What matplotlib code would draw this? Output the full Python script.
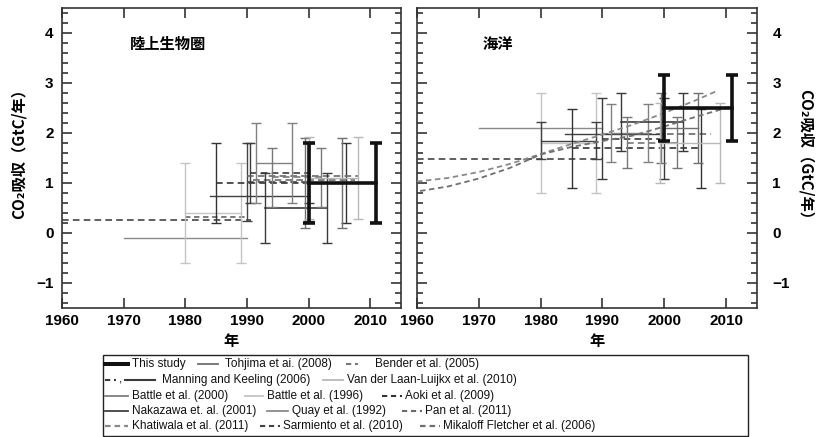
import numpy as np
import matplotlib.pyplot as plt
from matplotlib.ticker import MultipleLocator
from matplotlib.patches import Rectangle

plt.rcParams['font.family'] = ['Liberation Sans Narrow', 'Liberation Sans', 'DejaVu Sans']
JP = ['Noto Sans CJK JP', 'DejaVu Sans']
nan = np.nan

# land sink estimates (GtC/yr): series, period start, period end, value, error (nan = no bars)
land_series = ['sarmiento', 'mikaloff', 'quay', 'battle96', 'nakazawa', 'aoki', 'sarmiento',
               'manning_d', 'pan', 'pan', 'battle00', 'manning_s', 'bender', 'tohjima',
               'vdll', 'this']
land_start = [1960, 1980, 1970, 1980, 1984, 1985, 1990, 1990.5, 1990, 1991, 1991.4, 1993,
              1994, 1999.5, 2000, 2000]
land_end = [1990.7, 1990, 1990, 1989, 2000, 2006, 2000, 2000, 2008, 2007.5, 1997.3, 2003,
            2002, 2005.5, 2008, 2011]
land_value = [0.26, 0.31, -0.10, 0.40, 0.74, 1.00, 1.02, 1.20, 1.13, 1.06, 1.40, 0.49,
              1.11, 1.00, 1.10, 1.00]
land_err = [nan, nan, nan, 1.00, nan, 0.80, 0.78, 0.60, nan, nan, 0.80, 0.70,
            0.59, 0.90, 0.82, 0.80]

# ocean sink estimates (GtC/yr)
ocean_series = ['sarmiento', 'quay', 'battle96', 'nakazawa', 'pan', 'nakazawa', 'aoki',
                'manning_d', 'battle00', 'manning_s', 'bender', 'tohjima', 'vdll', 'this']
ocean_start = [1960, 1970, 1980, 1980, 1990, 1984, 1985, 1990, 1991.4, 1993, 1994, 1999.5,
               1999.3, 2000]
ocean_end = [1990, 1990, 1989, 1989, 2007.5, 2000, 2006, 2000, 1997.3, 2003, 2002, 2005.5,
             2009, 2011]
ocean_value = [1.47, 2.10, 1.80, 1.84, 1.97, 1.97, 1.69, 1.88, 2.00, 2.22, 1.80, 2.10,
               1.80, 2.50]
ocean_err = [nan, nan, 1.00, 0.37, nan, nan, 0.79, 0.81, 0.58, 0.58, 0.51, 0.70, 0.80, 0.66]

# ocean model time series
khatiwala_year = [1960, 1965, 1970, 1975, 1980, 1985, 1990, 1995, 2000, 2005, 2008.5]
khatiwala_value = [1.03, 1.10, 1.22, 1.38, 1.58, 1.78, 1.97, 2.17, 2.40, 2.65, 2.84]
mikaloff_year = [1960.5, 1965, 1970, 1975, 1980, 1985, 1990, 1995, 2000, 2005, 2010.5]
mikaloff_value = [0.84, 0.93, 1.09, 1.30, 1.57, 1.72, 1.84, 1.95, 2.13, 2.32, 2.52]

DASH = (0, (4, 2.5))
FINE = (0, (3, 2))
STYLE = {
    'this': dict(color='#111111', lw=2.6, ls='-'),
    'tohjima': dict(color='#707070', lw=1.0, ls='-'),
    'bender': dict(color='#777777', lw=1.2, ls=DASH),
    'manning_d': dict(color='#3a3a3a', lw=1.2, ls=DASH),
    'manning_s': dict(color='#3a3a3a', lw=1.2, ls='-'),
    'vdll': dict(color='#b8b8b8', lw=1.0, ls='-'),
    'battle00': dict(color='#808080', lw=1.0, ls='-'),
    'battle96': dict(color='#c4c4c4', lw=1.0, ls='-'),
    'aoki': dict(color='#333333', lw=1.2, ls=DASH),
    'nakazawa': dict(color='#404040', lw=1.0, ls='-'),
    'quay': dict(color='#8a8a8a', lw=1.0, ls='-'),
    'pan': dict(color='#6a6a6a', lw=1.2, ls=DASH),
    'khatiwala': dict(color='#8a8a8a', lw=1.3, ls=FINE),
    'sarmiento': dict(color='#444444', lw=1.2, ls=DASH),
    'mikaloff': dict(color='#707070', lw=1.3, ls=FINE),
}


def draw_estimates(ax, series, start, end, value, err):
    for s, x0, x1, v, e in zip(series, start, end, value, err):
        st = STYLE[s]
        z = 5 if s == 'this' else 3
        ax.plot([x0, x1], [v, v], color=st['color'], lw=st['lw'], ls=st['ls'], zorder=z)
        if not np.isnan(e):
            thick = s == 'this'
            ax.errorbar([x0, x1], [v, v], yerr=e, fmt='none', ecolor=st['color'],
                        elinewidth=st['lw'] if thick else 1.0,
                        capsize=4.5 if thick else 3.6,
                        capthick=st['lw'] if thick else 1.0, zorder=z)


def style_axes(ax):
    ax.set_xlim(1960, 2015)
    ax.set_ylim(-1.5, 4.5)
    ax.set_xticks([1960, 1970, 1980, 1990, 2000, 2010])
    ax.set_yticks([-1, 0, 1, 2, 3, 4])
    ax.set_yticklabels(['\u22121', '0', '1', '2', '3', '4'])
    ax.yaxis.set_minor_locator(MultipleLocator(0.2))
    ax.tick_params(which='both', direction='in', top=True, right=True,
                   width=1.2, color='#333333')
    ax.tick_params(which='major', length=7, labelsize=11)
    ax.tick_params(which='minor', length=4)
    ax.tick_params(axis='x', pad=4)
    for t in ax.xaxis.get_major_ticks() + ax.yaxis.get_major_ticks():
        t.label1.set_fontweight('bold')
        t.label2.set_fontweight('bold')
    for sp in ax.spines.values():
        sp.set_linewidth(1.2)
        sp.set_color('#333333')


W, H = 822, 437
fig = plt.figure(figsize=(W / 100, H / 100), dpi=100)
ax1 = fig.add_axes([62 / W, 1 - 308 / H, 339 / W, 300 / H])
ax2 = fig.add_axes([417 / W, 1 - 308 / H, 340 / W, 300 / H])

draw_estimates(ax1, land_series, land_start, land_end, land_value, land_err)
draw_estimates(ax2, ocean_series, ocean_start, ocean_end, ocean_value, ocean_err)
for name, yrs, vals in [('khatiwala', khatiwala_year, khatiwala_value),
                        ('mikaloff', mikaloff_year, mikaloff_value)]:
    st = STYLE[name]
    ax2.plot(yrs, vals, color=st['color'], lw=st['lw'], ls=st['ls'], zorder=4)

style_axes(ax1)
style_axes(ax2)
ax1.tick_params(axis='y', pad=6)
ax2.tick_params(axis='y', labelleft=False, labelright=True, pad=11)

ax1.text(1977.2, 3.78, '陸上生物圏', family=JP, fontsize=11, fontweight='bold',
         ha='center', va='center')
ax2.text(1973.1, 3.78, '海洋', family=JP, fontsize=11, fontweight='bold',
         ha='center', va='center')

ylab = 'CO\u2082吸収（GtC/年）'
fig.text(19 / W, 1 - 150 / H, ylab, family=JP, fontsize=11, fontweight='bold',
         rotation=90, ha='center', va='center')
fig.text(806 / W, 1 - 158 / H, ylab, family=JP, fontsize=11, fontweight='bold',
         rotation=270, ha='center', va='center')
fig.text(231 / W, 1 - 341 / H, '年', family=JP, fontsize=11, fontweight='bold',
         ha='center', va='center')
fig.text(597 / W, 1 - 341 / H, '年', family=JP, fontsize=11, fontweight='bold',
         ha='center', va='center')

# legend panel laid out in pixel units
lg = fig.add_axes([0, 0, 1, 1], zorder=-1)
lg.set_xlim(0, W)
lg.set_ylim(H, 0)
lg.axis('off')
lg.add_patch(Rectangle((103, 355), 645, 81, fill=False, lw=1.0, ec='#222222'))

rows = [364, 380, 396, 411, 426]
entries = [
    (0, 'this', 105, 128, 132, 'This study'),
    (0, 'tohjima', 198, 218, 225, 'Tohjima et ai. (2008)'),
    (0, 'bender', 346, 358, 375, 'Bender et al. (2005)'),
    (1, 'manning_s', 125, 155, 162, 'Manning and Keeling (2006)'),
    (1, 'vdll', 323, 343, 347, 'Van der Laan-Luijkx et al. (2010)'),
    (2, 'battle00', 105, 128, 132, 'Battle et al. (2000)'),
    (2, 'battle96', 245, 263, 267, 'Battle et al. (1996)'),
    (2, 'aoki', 382, 402, 405, 'Aoki et al. (2009)'),
    (3, 'nakazawa', 105, 128, 132, 'Nakazawa et. al. (2001)'),
    (3, 'quay', 267, 288, 292, 'Quay et al. (1992)'),
    (3, 'pan', 402, 422, 425, 'Pan et al. (2011)'),
    (4, 'khatiwala', 105, 128, 132, 'Khatiwala et al. (2011)'),
    (4, 'sarmiento', 260, 280, 283, 'Sarmiento et al. (2010)'),
    (4, 'mikaloff', 420, 440, 443, 'Mikaloff Fletcher et al. (2006)'),
]
for r, key, x0, x1, tx, label in entries:
    st = STYLE[key]
    y = rows[r]
    ls = st['ls'] if st['ls'] == '-' else (0, (2.5, 1.8))
    lg.plot([x0, x1], [y, y], color=st['color'], lw=st['lw'] + 0.3, ls=ls)
    lg.text(tx, y, label, fontsize=8.5, ha='left', va='center', color='#111111')
st = STYLE['manning_d']
lg.plot([105, 116], [rows[1], rows[1]], color=st['color'], lw=1.5, ls=(0, (2.5, 1.8)))
lg.text(119, rows[1], ',', fontsize=8.5, ha='left', va='center')

fig.savefig('out.png', dpi=100)
